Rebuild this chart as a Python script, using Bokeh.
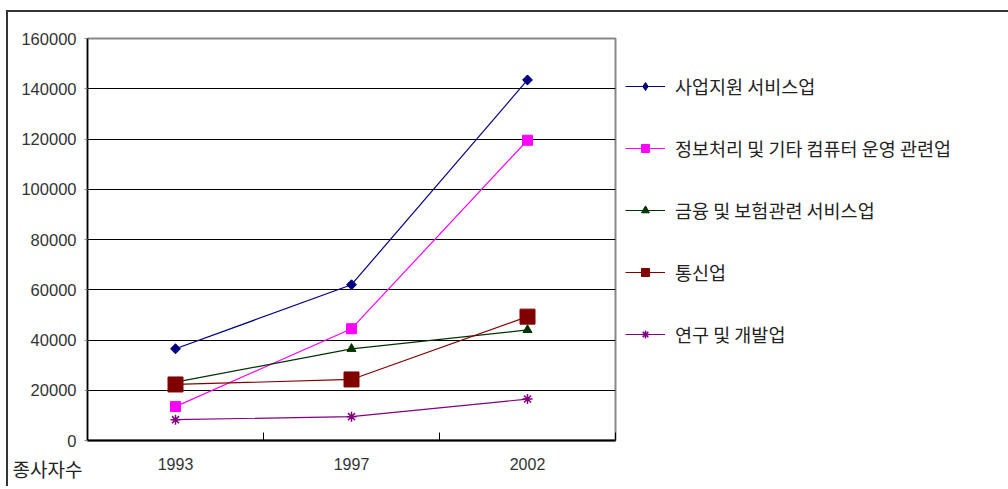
from bokeh.plotting import figure
from bokeh.models import (Range1d, FixedTicker, NumeralTickFormatter, Legend, LegendItem,
                          Title, ColumnDataSource)
from bokeh.embed import file_html
from bokeh.resources import INLINE

years = ["1993", "1997", "2002"]
series_names = ["사업지원 서비스업", "정보처리 및 기타 컴퓨터 운영 관련업", "금융 및 보험관련 서비스업",
                "통신업", "연구 및 개발업"]
business_support = [36500, 62000, 143500]
info_processing = [13500, 44500, 119500]
finance_insurance = [23200, 36500, 44000]
telecom = [22300, 24300, 49300]
research_dev = [8300, 9500, 16500]
y_ticks = [0, 20000, 40000, 60000, 80000, 100000, 120000, 140000, 160000]
y_axis_note = "종사자수"

values = [business_support, info_processing, finance_insurance, telecom, research_dev]
colors = ["#000080", "#FF00FF", "#003300", "#800000", "#800080"]
markers = ["square", "square", "triangle", "square", "asterisk"]
legend_markers = ["diamond", "square", "triangle", "square", "asterisk"]
angles = [0.785398, 0, 0, 0, 0]
sizes = [7, 10, 9, 15, 10]

xpos = [i + 0.5 for i in range(len(years))]

p = figure(frame_width=528, frame_height=402, output_backend="svg", toolbar_location=None,
           x_range=Range1d(0, 3), y_range=Range1d(0, 160000),
           min_border_left=79, min_border_top=26, min_border_bottom=46, min_border_right=0)
p.background_fill_color = "white"
p.border_fill_color = "white"
p.outline_line_color = "#888888"
p.outline_line_width = 2
p.styles = {"border-top": "2px solid #333333", "border-left": "2px solid #333333",
            "margin-left": "6px", "margin-top": "10px"}

# axes
xa = p.xaxis[0]
xa.ticker = FixedTicker(ticks=xpos, minor_ticks=[0, 1, 2, 3])
xa.major_label_overrides = {x: y for x, y in zip(xpos, years)}
xa.major_tick_in = 0
xa.major_tick_out = 0
xa.minor_tick_in = 8
xa.minor_tick_out = 0
xa.minor_tick_line_color = "black"
xa.axis_line_color = "black"
xa.axis_line_width = 2
xa.major_label_text_font = "Liberation Sans"
xa.major_label_text_font_size = "16px"
xa.major_label_text_color = "#333333"
xa.major_label_standoff = 17

ya = p.yaxis[0]
ya.ticker = FixedTicker(ticks=y_ticks)
ya.formatter = NumeralTickFormatter(format="0")
ya.major_tick_in = 0
ya.major_tick_out = 3
ya.major_tick_line_color = "#888888"
ya.minor_tick_line_color = None
ya.axis_line_color = "black"
ya.axis_line_width = 1.5
ya.major_label_text_font = "Liberation Sans"
ya.major_label_text_font_size = "16.5px"
ya.major_label_text_color = "#333333"
ya.major_label_standoff = 8

p.xgrid.grid_line_color = None
p.ygrid.grid_line_color = "black"
p.ygrid.grid_line_width = 1
p.ygrid.ticker = FixedTicker(ticks=y_ticks)

items = []
for name, vals, c, m, lm, a, s in zip(series_names, values, colors, markers, legend_markers,
                                      angles, sizes):
    src = ColumnDataSource(dict(x=xpos, y=vals))
    l = p.line("x", "y", source=src, line_color=c, line_width=1.2)
    lw = 1.5 if m == "asterisk" else 1
    lg = None
    if lm != m:
        # diamond drawn underneath (covered by the rotated square) and used for the legend symbol
        lg = p.scatter("x", "y", source=src, marker=lm, size=s + 2, fill_color=c, line_color=c,
                       line_width=lw)
    sc = p.scatter("x", "y", source=src, marker=m, size=s, angle=a, fill_color=c, line_color=c,
                   line_width=lw)
    items.append(LegendItem(label=name, renderers=[l, lg if lg is not None else sc]))

legend = Legend(items=items, location=(10, 93), orientation="vertical")
legend.padding = 0
legend.margin = 0
legend.spacing = 36
legend.glyph_width = 40
legend.glyph_height = 20
legend.label_height = 20
legend.label_standoff = 10
legend.border_line_color = None
legend.background_fill_alpha = 0
legend.label_text_font = "Noto Sans CJK KR"
legend.label_text_font_size = "18.5px"
legend.label_text_color = "#222222"
p.add_layout(legend, "right")

note = Title(text=y_axis_note, align="left", offset=-75, standoff=-36, vertical_align="top",
             text_font="Noto Sans CJK KR", text_font_size="19px", text_font_style="normal",
             text_color="#222222")
p.add_layout(note, "below")

open("out.html", "w").write(file_html(p, INLINE))
